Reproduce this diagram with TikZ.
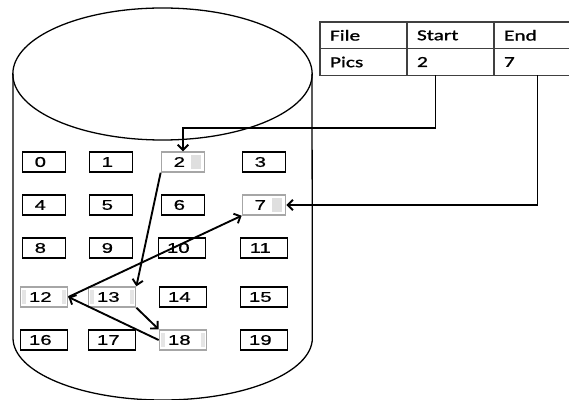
\documentclass[tikz,border=0pt]{standalone}
\usepackage{fontspec}
\setmainfont[FakeStretch=1.45, FakeBold=0.8]{Liberation Sans}
\newfontfamily\tabfont[FakeStretch=1.4, FakeBold=1.2]{Carlito}
\usetikzlibrary{arrows.meta}

\begin{document}
\begin{tikzpicture}[x=0.03cm, y=-0.03cm, >={Straight Barb[length=4.5pt,width=9pt]},
  every node/.style={font=\fontsize{12}{14}\selectfont},
  blk/.style={draw, line width=1.2pt, minimum width=1.3cm, minimum height=0.6cm, inner sep=0pt, execute at end node={\hspace{0.22cm}}},
  wblk/.style={blk, minimum width=1.42cm},
  usedr/.style={draw=gray!70, path picture={\fill[gray!25] ([xshift=-0.42cm,yshift=-0.08cm]path picture bounding box.north east) rectangle ([xshift=-0.12cm,yshift=0.08cm]path picture bounding box.south east);}},
  usedb/.style={draw=gray!70, path picture={\fill[gray!20] ([xshift=0.06cm,yshift=-0.1cm]path picture bounding box.north west) rectangle ([xshift=0.16cm,yshift=0.1cm]path picture bounding box.south west);
    \fill[gray!20] ([xshift=-0.16cm,yshift=-0.1cm]path picture bounding box.north east) rectangle ([xshift=-0.06cm,yshift=0.1cm]path picture bounding box.south east);}},
  cell/.style={draw=black!75, line width=1pt, anchor=north west, outer sep=0pt, minimum height=0.8cm, text width=2.01cm, inner xsep=0.3cm, align=left, font=\tabfont\fontsize{13}{15}\selectfont},
  ptr/.style={->, line width=1.6pt}]
\useasboundingbox (0,0) rectangle (569,400);
% disk
\draw[line width=1.1pt] (162.5,74) ellipse [x radius=4.49cm, y radius=1.98cm];
\draw[line width=1.1pt] (13,74) -- (13,338) arc[start angle=180, end angle=360, x radius=4.49cm, y radius=1.86cm] -- (312,74);
% blocks
\node[blk] (b0) at (44,162) {0};
\node[blk] (b1) at (111,162) {1};
\node[blk,usedr] (b2) at (183,162) {2};
\node[blk] (b3) at (264,162) {3};
\node[blk] (b4) at (44,205) {4};
\node[blk] (b5) at (111,205) {5};
\node[blk] (b6) at (183,205) {6};
\node[blk,usedr] (b7) at (264,205) {7};
\node[blk] (b8) at (44,248) {8};
\node[blk] (b9) at (111,248) {9};
\node[wblk] (b10) at (182,248) {10};
\node[wblk] (b11) at (264,248) {11};
\node[wblk,usedb] (b12) at (44,297) {12};
\node[wblk,usedb] (b13) at (112,297) {13};
\node[wblk] (b14) at (183,297) {14};
\node[wblk] (b15) at (264,297) {15};
\node[wblk] (b16) at (44,340) {16};
\node[wblk] (b17) at (112,340) {17};
\node[wblk,usedb] (b18) at (183,340) {18};
\node[wblk] (b19) at (264,340) {19};
% directory table
\node[cell] (hf) at (320,22) {File};
\node[cell] (hs) at (hf.north east) {Start};
\node[cell] (he) at (hs.north east) {End};
\node[cell] (pf) at (hf.south west) {Pics};
\node[cell] (ps) at (pf.north east) {2};
\node[cell] (pe) at (ps.north east) {7};
% pointers
\draw[ptr] ([xshift=-0.45cm]ps.south) -- ++(0,53) -| (b2.north);
\draw[ptr] (pe.south) |- (b7.east);
\draw[ptr] (b2.south west) -- (b13.north east);
\draw[ptr] (b13.south east) -- (b18.north west);
\draw[ptr] (b18.west) -- (b12.east);
\draw[ptr] (b12.east) -- (b7.south west);
\end{tikzpicture}
\end{document}
